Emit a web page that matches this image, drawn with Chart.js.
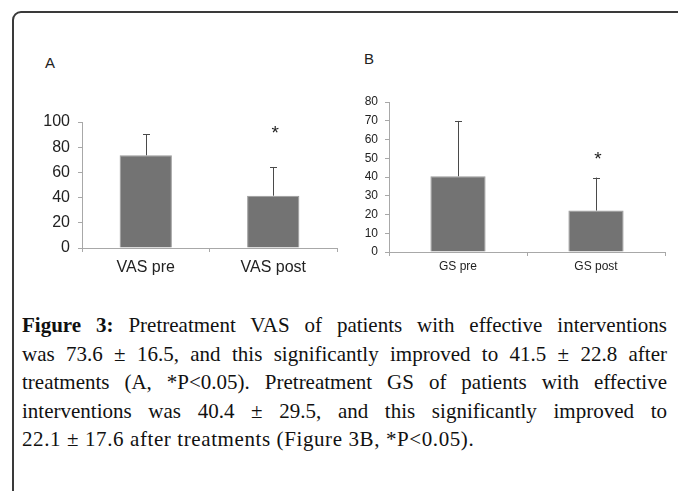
<!DOCTYPE html>
<html>
<head>
<meta charset="utf-8">
<script src="https://cdn.jsdelivr.net/npm/chart.js@4/dist/chart.umd.min.js"></script>
<style>
  html, body { margin: 0; padding: 0; background: #fff; }
  body { width: 678px; height: 491px; position: relative; overflow: hidden; }
  #frame {
    position: absolute; left: 12px; top: 11px; width: 720px; height: 520px;
    border: 2px solid #3a3a3a; border-radius: 9px;
  }
  .panel { position: absolute; font: 15px "Liberation Sans", Arial, sans-serif; color: #222; }
  canvas { position: absolute; }
  #caption {
    position: absolute; left: 22px; top: 311px; width: 645px;
    font: 21px "Liberation Serif", "Times New Roman", serif; line-height: 28.5px; color: #111;
  }
  #caption div { text-align: justify; text-align-last: justify; }
  #caption div.last { text-align: left; text-align-last: left; letter-spacing: 0.6px; }
</style>
</head>
<body>
<div id="frame"></div>
<div class="panel" style="left:45px; top:54px;">A</div>
<div class="panel" style="left:364px; top:50px;">B</div>
<canvas id="chartA" width="330" height="185" style="left:20px; top:100px;"></canvas>
<canvas id="chartB" width="328" height="205" style="left:350px; top:80px;"></canvas>
<div id="caption">
  <div><b>Figure 3:</b> Pretreatment VAS of patients with effective interventions</div>
  <div>was 73.6 ± 16.5, and this significantly improved to 41.5 ± 22.8 after</div>
  <div>treatments (A, *P&lt;0.05). Pretreatment GS of patients with effective</div>
  <div>interventions was 40.4 ± 29.5, and this significantly improved to</div>
  <div class="last">22.1 ± 17.6 after treatments (Figure 3B, *P&lt;0.05).</div>
</div>
<script>
// panel A: VAS
const vasLabels = ["VAS pre", "VAS post"];
const vasMeans = [73.6, 41.5];
const vasSD = [16.5, 22.8];
const vasStar = [null, 93];      // where the * sits, in axis units
const vasTicks = [0, 20, 40, 60, 80, 100];

// panel B: GS
const gsLabels = ["GS pre", "GS post"];
const gsMeans = [40.4, 22.1];
const gsSD = [29.5, 17.6];
const gsStar = [null, 51];
const gsTicks = [0, 10, 20, 30, 40, 50, 60, 70, 80];

const barFill = "#737373";
const axisGray = "#a8a8a8";

// upward error bars + significance stars
const errorBars = {
  id: "errorBars",
  afterDatasetsDraw(chart, args, opts) {
    const ctx = chart.ctx;
    const y = chart.scales.y;
    const meta = chart.getDatasetMeta(0);
    ctx.save();
    meta.data.forEach((bar, i) => {
      const top = y.getPixelForValue(opts.means[i] + opts.sd[i]);
      const base = y.getPixelForValue(opts.means[i]);
      ctx.strokeStyle = "#4a4a4a";
      ctx.lineWidth = 1;
      ctx.beginPath();
      ctx.moveTo(Math.round(bar.x) + 0.5, base);
      ctx.lineTo(Math.round(bar.x) + 0.5, top);
      ctx.moveTo(Math.round(bar.x) - 3, Math.round(top) + 0.5);
      ctx.lineTo(Math.round(bar.x) + 4, Math.round(top) + 0.5);
      ctx.stroke();
      if (opts.stars[i] != null) {
        ctx.fillStyle = "#222";
        ctx.font = "19px 'Liberation Sans', Arial, sans-serif";
        ctx.textAlign = "center";
        ctx.textBaseline = "middle";
        ctx.fillText("*", bar.x + 2, y.getPixelForValue(opts.stars[i]) + 3);
      }
    });
    ctx.restore();
  }
};

function makeChart(id, labels, means, sd, stars, ticks, cfg) {
  return new Chart(document.getElementById(id), {
    type: "bar",
    data: {
      labels: labels,
      datasets: [{
        data: means,
        backgroundColor: barFill,
        borderColor: "#9a9a9a",
        borderWidth: 1,
        barPercentage: cfg.barPct,
        categoryPercentage: 1
      }]
    },
    options: {
      responsive: false,
      animation: false,
      devicePixelRatio: 1,
      layout: { padding: { top: 22, right: 13, left: 0, bottom: 0 } },
      plugins: {
        legend: { display: false },
        tooltip: { enabled: false },
        errorBars: { means: means, sd: sd, stars: stars }
      },
      scales: {
        x: {
          grid: { offset: true, drawOnChartArea: false, tickLength: 4, color: axisGray },
          border: { color: axisGray },
          ticks: {
            color: "#222", padding: cfg.xPad,
            font: { family: "'Liberation Sans', Arial, sans-serif", size: cfg.xFont }
          },
          afterFit(s) { s.height = cfg.xHeight; }
        },
        y: {
          min: ticks[0],
          max: ticks[ticks.length - 1],
          afterBuildTicks(s) { s.ticks = ticks.map(v => ({ value: v })); },
          grid: { drawOnChartArea: false, tickLength: 4, color: axisGray },
          border: { color: axisGray },
          ticks: {
            color: "#222", padding: cfg.yPad,
            font: { family: "'Liberation Sans', Arial, sans-serif", size: cfg.yFont }
          },
          afterFit(s) { s.width = cfg.yWidth; }
        }
      }
    },
    plugins: [errorBars]
  });
}

makeChart("chartA", vasLabels, vasMeans, vasSD, vasStar, vasTicks,
  { barPct: 0.41, xFont: 16, yFont: 16, xPad: 6, yPad: 8, xHeight: 37, yWidth: 62 });
makeChart("chartB", gsLabels, gsMeans, gsSD, gsStar, gsTicks,
  { barPct: 0.40, xFont: 12, yFont: 12, xPad: 3, yPad: 7, xHeight: 33, yWidth: 39 });
</script>
</body>
</html>
